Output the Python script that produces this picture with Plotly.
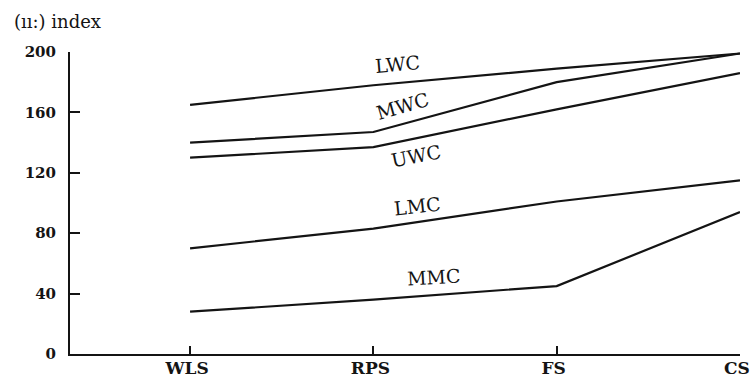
import plotly.graph_objects as go

# Stages along the horizontal axis
stages = ["WLS", "RPS", "FS", "CS"]

# Index values per class at each stage
lwc = [165, 178, 189, 199]
mwc = [140, 147, 180, 199]
uwc = [130, 137, 162, 186]
lmc = [70, 83, 101, 115]
mmc = [28, 36, 45, 94]

series_names = ["LWC", "MWC", "UWC", "LMC", "MMC"]
series_values = [lwc, mwc, uwc, lmc, mmc]

y_ticks = [0, 40, 80, 120, 160, 200]
y_tick_text = ["0", "40", "80", "120", "160", "200"]

FONT = "DejaVu Serif"
INK = "#141414"

xpos = list(range(len(stages)))

fig = go.Figure()
for name, vals in zip(series_names, series_values):
    fig.add_trace(go.Scatter(
        x=xpos, y=vals, mode="lines", name=name,
        line=dict(color=INK, width=2.2),
        cliponaxis=False, showlegend=False,
    ))

# In-line series labels: (x in stage units, y in index units, angle)
label_place = {
    "LWC": (1.13, 192, -5),
    "MWC": (1.16, 164, -16),
    "UWC": (1.23, 131, -11),
    "LMC": (1.24, 98, -6),
    "MMC": (1.33, 51, -3),
}
for name in series_names:
    lx, ly, ang = label_place[name]
    fig.add_annotation(
        x=lx, y=ly, text=name, showarrow=False, textangle=ang,
        font=dict(family=FONT, size=19, color=INK),
        xanchor="center", yanchor="middle",
    )

# Axis title above the vertical axis
fig.add_annotation(
    xref="paper", yref="paper", x=-0.087, y=1.10,
    text="(ıı:) index", showarrow=False,
    xanchor="left", yanchor="middle",
    font=dict(family=FONT, size=18, color=INK),
)

fig.update_layout(
    width=753, height=381,
    margin=dict(l=70, r=13, t=52, b=27),
    paper_bgcolor="white", plot_bgcolor="white",
    font=dict(family=FONT, color=INK),
    xaxis=dict(
        range=[-0.655, 3], tickmode="array", tickvals=xpos,
        ticktext=["<b>%s</b>" % s for s in stages],
        showline=True, linecolor=INK, linewidth=2,
        ticks="inside", ticklen=8, tickwidth=2, tickcolor=INK,
        showgrid=False, zeroline=False, automargin=False,
        tickfont=dict(family=FONT, size=17, color=INK),
        ticklabelstandoff=-2, ticklabelshift=-3, ticklabeloverflow="allow",
    ),
    yaxis=dict(
        range=[0, 200], tickmode="array", tickvals=y_ticks,
        ticktext=["<b>%s</b>" % t for t in y_tick_text],
        showline=True, linecolor=INK, linewidth=2,
        ticks="inside", ticklen=10, tickwidth=2, tickcolor=INK,
        showgrid=False, zeroline=False, automargin=False,
        tickfont=dict(family=FONT, size=15, color=INK),
        ticklabelstandoff=9, ticklabeloverflow="allow",
    ),
)

fig.write_html("out.html")
